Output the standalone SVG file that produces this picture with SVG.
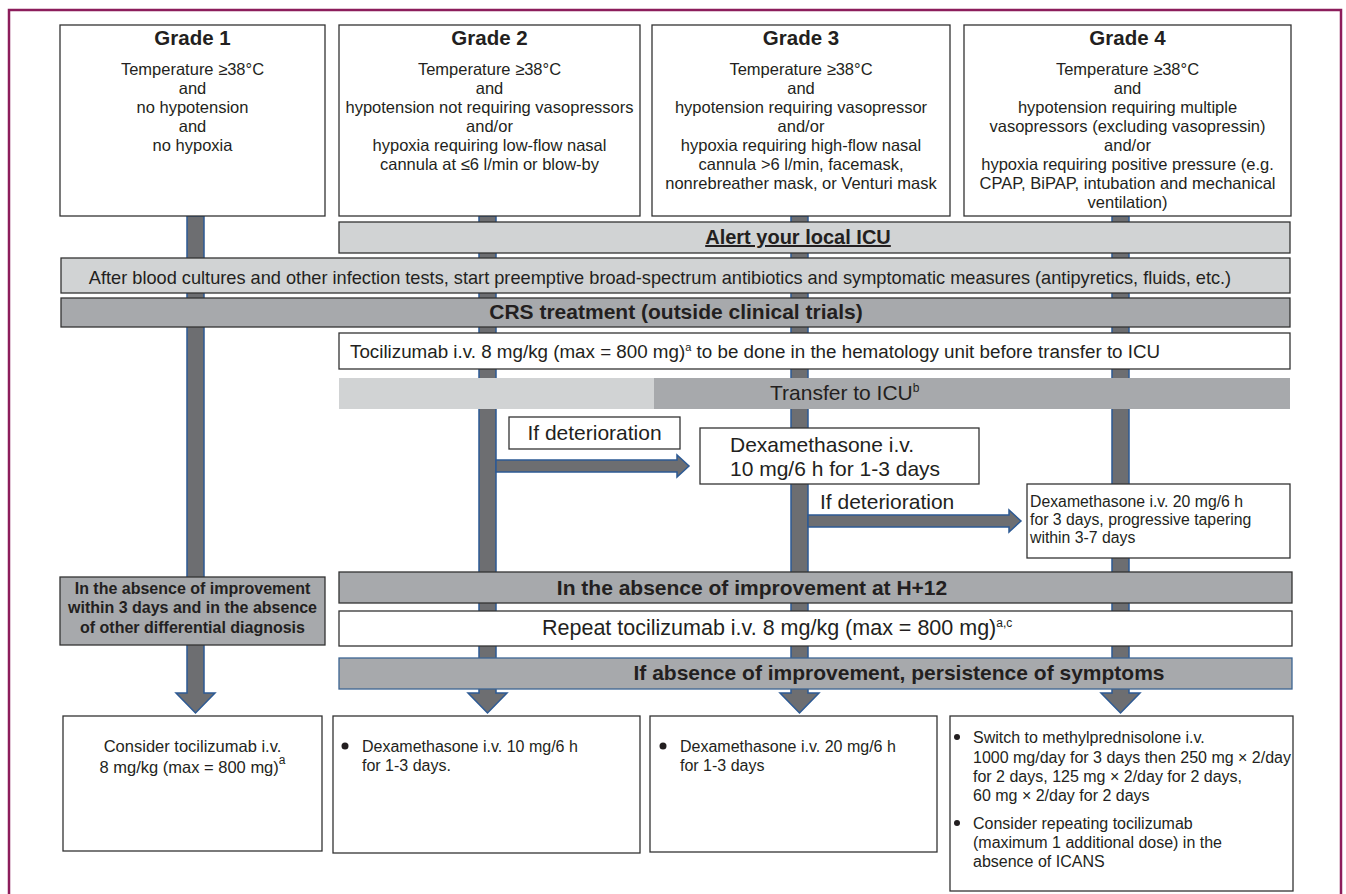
<svg xmlns="http://www.w3.org/2000/svg" width="1346" height="894" viewBox="0 0 1346 894">
<defs>
<style>
text{font-family:"Liberation Sans",Arial,sans-serif;fill:#231f20}
.box{fill:#fff;stroke:#333;stroke-width:1.3}
.lbar{fill:#d1d3d4;stroke:#333;stroke-width:1.3}
.dbar{fill:#a7a9ac;stroke:#333;stroke-width:1.3}
.arr{fill:#6d6e71;stroke:#2d5a94;stroke-width:1.5}
.t{font-size:16.5px;text-anchor:middle}
.h{font-size:20.5px;font-weight:bold;text-anchor:middle}
.b{font-size:21px;font-weight:bold;text-anchor:middle}
.s{font-size:16px}
.m{font-size:21px}
.gb{font-size:16px;font-weight:bold;text-anchor:middle}
</style>
</defs>
<rect x="9" y="10" width="1332" height="900" fill="#fff" stroke="#8c1d5b" stroke-width="2.5"/>

<g id="connectors">
<path class="arr" d="M187,216 V693 H176 L195.5,713 L215,693 H204 V216 Z"/>
<path class="arr" d="M479,216 V693 H468 L487.5,713 L507,693 H496 V216 Z"/>
<path class="arr" d="M791,216 V693 H780 L799.5,713 L819,693 H808 V216 Z"/>
<path class="arr" d="M1112,216 V693 H1101 L1120.5,713 L1140,693 H1129 V216 Z"/>
<path class="arr" d="M496,460 H677 V455 L689,466 L677,477 V472 H496 Z"/>
<path class="arr" d="M808,515 H1009 V510 L1021,521 L1009,532 V527 H808 Z"/>
</g>

<g id="grade1">
<rect class="box" x="60" y="25" width="265" height="191"/>
<text class="h" x="192.5" y="45">Grade 1</text>
<text class="t" x="192.5" y="75">Temperature ≥38°C</text>
<text class="t" x="192.5" y="94">and</text>
<text class="t" x="192.5" y="113">no hypotension</text>
<text class="t" x="192.5" y="132">and</text>
<text class="t" x="192.5" y="151">no hypoxia</text>
</g>
<g id="grade2">
<rect class="box" x="339" y="25" width="301" height="191"/>
<text class="h" x="489.5" y="45">Grade 2</text>
<text class="t" x="489.5" y="75">Temperature ≥38°C</text>
<text class="t" x="489.5" y="94">and</text>
<text class="t" x="489.5" y="113">hypotension not requiring vasopressors</text>
<text class="t" x="489.5" y="132">and/or</text>
<text class="t" x="489.5" y="151">hypoxia requiring low-flow nasal</text>
<text class="t" x="489.5" y="170">cannula at ≤6 l/min or blow-by</text>
</g>
<g id="grade3">
<rect class="box" x="652" y="25" width="298" height="191"/>
<text class="h" x="801" y="45">Grade 3</text>
<text class="t" x="801" y="75">Temperature ≥38°C</text>
<text class="t" x="801" y="94">and</text>
<text class="t" x="801" y="113">hypotension requiring vasopressor</text>
<text class="t" x="801" y="132">and/or</text>
<text class="t" x="801" y="151">hypoxia requiring high-flow nasal</text>
<text class="t" x="801" y="170">cannula &gt;6 l/min, facemask,</text>
<text class="t" x="801" y="189">nonrebreather mask, or Venturi mask</text>
</g>
<g id="grade4">
<rect class="box" x="964" y="25" width="327" height="191"/>
<text class="h" x="1127.5" y="45">Grade 4</text>
<text class="t" x="1127.5" y="75">Temperature ≥38°C</text>
<text class="t" x="1127.5" y="94">and</text>
<text class="t" x="1127.5" y="113">hypotension requiring multiple</text>
<text class="t" x="1127.5" y="132">vasopressors (excluding vasopressin)</text>
<text class="t" x="1127.5" y="151">and/or</text>
<text class="t" x="1127.5" y="170">hypoxia requiring positive pressure (e.g.</text>
<text class="t" x="1127.5" y="189">CPAP, BiPAP, intubation and mechanical</text>
<text class="t" x="1127.5" y="208">ventilation)</text>
</g>

<g id="alert">
<rect class="lbar" x="339" y="222" width="951" height="31"/>
<text class="b" x="798" y="244" style="font-size:20px" text-decoration="underline">Alert your local ICU</text>
</g>
<g id="antibiotics">
<rect class="lbar" x="61" y="258" width="1229" height="35"/>
<text class="t" x="660" y="284" style="font-size:18.2px">After blood cultures and other infection tests, start preemptive broad-spectrum antibiotics and symptomatic measures (antipyretics, fluids, etc.)</text>
</g>
<g id="crs">
<rect class="dbar" x="61" y="298" width="1229" height="29"/>
<text class="b" x="676" y="319">CRS treatment (outside clinical trials)</text>
</g>
<g id="tocilizumab">
<rect class="box" x="339" y="333" width="951" height="36"/>
<text x="350" y="358" font-size="18.8">Tocilizumab i.v. 8 mg/kg (max = 800 mg)<tspan font-size="11" dy="-7">a</tspan><tspan dy="7"> to be done in the hematology unit before transfer to ICU</tspan></text>
</g>
<g id="transfer">
<rect x="339" y="378" width="315" height="31" fill="#d1d3d4"/>
<rect x="654" y="378" width="636" height="31" fill="#a7a9ac"/>
<text class="m" x="770" y="400">Transfer to ICU<tspan font-size="12" dy="-8">b</tspan></text>
</g>
<g id="deterioration1">
<rect class="box" x="509" y="417" width="171" height="32"/>
<text class="m" x="594.5" y="440" text-anchor="middle">If deterioration</text>
</g>
<g id="dexa10">
<rect class="box" x="700" y="428" width="279" height="56"/>
<text class="m" x="730" y="452">Dexamethasone i.v.</text>
<text class="m" x="730" y="476">10 mg/6 h for 1-3 days</text>
</g>
<g id="deterioration2">
<text class="m" x="820" y="509">If deterioration</text>
</g>
<g id="dexa20">
<rect class="box" x="1027" y="484" width="263" height="74"/>
<text x="1030" y="507" font-size="15.8">Dexamethasone i.v. 20 mg/6 h</text>
<text x="1030" y="525" font-size="15.8">for 3 days, progressive tapering</text>
<text x="1030" y="543" font-size="15.8">within 3-7 days</text>
</g>
<g id="absence3days">
<rect class="dbar" x="60" y="577" width="265" height="68"/>
<text class="gb" x="192.5" y="594">In the absence of improvement</text>
<text class="gb" x="192.5" y="613">within 3 days and in the absence</text>
<text class="gb" x="192.5" y="633">of other differential diagnosis</text>
</g>
<g id="h12">
<rect class="dbar" x="339" y="572" width="953" height="31"/>
<text class="b" x="752" y="595">In the absence of improvement at H+12</text>
</g>
<g id="repeat">
<rect class="box" x="339" y="611" width="953" height="35"/>
<text x="542" y="635" font-size="21.5">Repeat tocilizumab i.v. 8 mg/kg (max = 800 mg)<tspan font-size="12" dy="-8">a,c</tspan></text>
</g>
<g id="persistence">
<rect x="339" y="658" width="953" height="31" fill="#a7a9ac" stroke="#3d6593" stroke-width="1.3"/>
<text class="b" x="899" y="680">If absence of improvement, persistence of symptoms</text>
</g>

<g id="out1">
<rect class="box" x="63" y="716" width="259" height="135"/>
<text class="t" x="192.5" y="752">Consider tocilizumab i.v.</text>
<text class="t" x="192.5" y="773">8 mg/kg (max = 800 mg)<tspan font-size="12" dy="-9">a</tspan></text>
</g>
<g id="out2">
<rect class="box" x="333" y="716" width="307" height="137"/>
<circle cx="345" cy="746" r="3.5" fill="#231f20"/>
<text class="s" x="362" y="752">Dexamethasone i.v. 10 mg/6 h</text>
<text class="s" x="362" y="771">for 1-3 days.</text>
</g>
<g id="out3">
<rect class="box" x="650" y="716" width="287" height="136"/>
<circle cx="663" cy="746" r="3.5" fill="#231f20"/>
<text class="s" x="680" y="752">Dexamethasone i.v. 20 mg/6 h</text>
<text class="s" x="680" y="771">for 1-3 days</text>
</g>
<g id="out4">
<rect class="box" x="950" y="716" width="343" height="175"/>
<circle cx="957" cy="737" r="3" fill="#231f20"/>
<text class="s" x="973" y="743">Switch to methylprednisolone i.v.</text>
<text class="s" x="973" y="763">1000 mg/day for 3 days then 250 mg × 2/day</text>
<text class="s" x="973" y="782">for 2 days, 125 mg × 2/day for 2 days,</text>
<text class="s" x="973" y="801">60 mg × 2/day for 2 days</text>
<circle cx="957" cy="823" r="3" fill="#231f20"/>
<text class="s" x="973" y="829">Consider repeating tocilizumab</text>
<text class="s" x="973" y="848">(maximum 1 additional dose) in the</text>
<text class="s" x="973" y="867">absence of ICANS</text>
</g>
</svg>
